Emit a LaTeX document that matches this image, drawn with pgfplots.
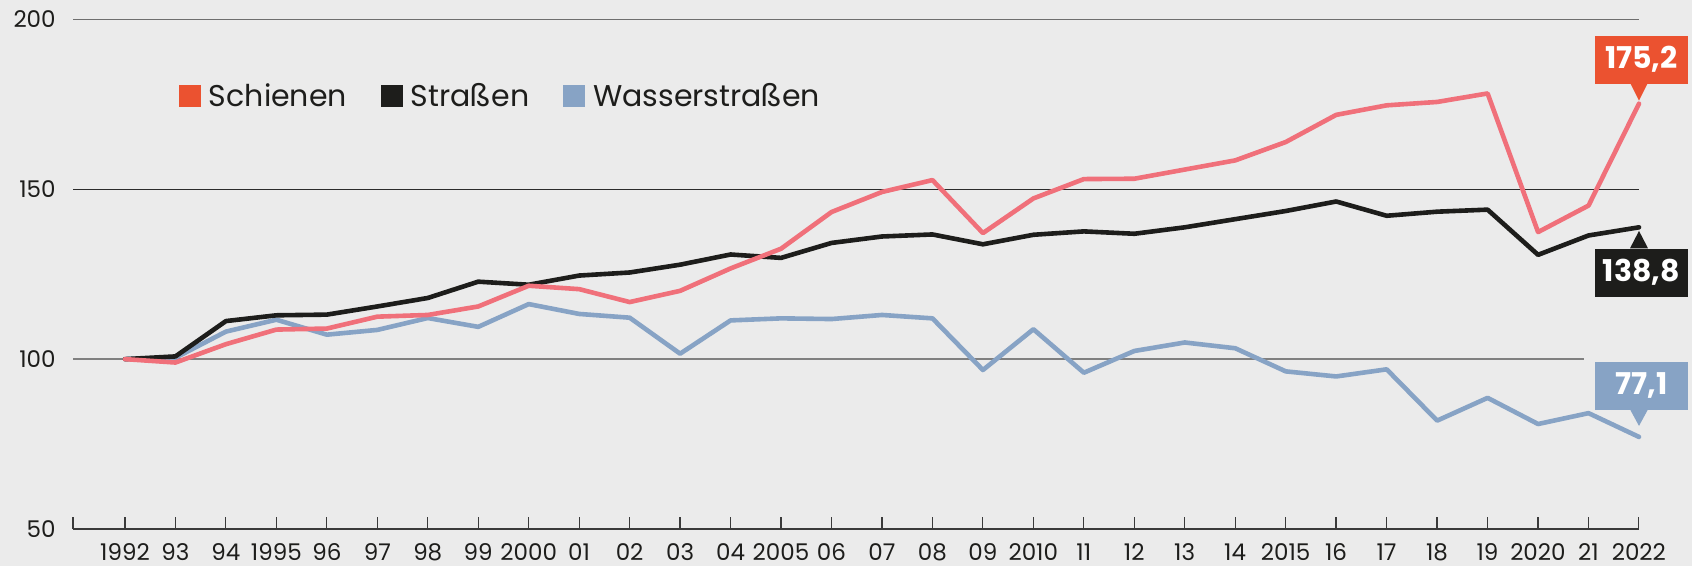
\documentclass[border=0pt]{standalone}
\usepackage{fontspec}
\setmainfont{Poppins}
\usepackage{graphicx}
\usepackage{pgfplots}
\pgfplotsset{compat=1.18}
\definecolor{bg}{HTML}{EBEBEB}
\definecolor{redline}{HTML}{F0707A}
\definecolor{redbox}{HTML}{EB5230}
\definecolor{blk}{HTML}{1D1D1B}
\definecolor{blu}{HTML}{87A3C5}
\definecolor{grid200}{HTML}{6E6E6E}
\definecolor{grid150}{HTML}{2B2B2B}
\definecolor{grid100}{HTML}{808080}
\definecolor{axisgray}{HTML}{3A3A3A}

\pgfplotstableread{
year schienen strassen wasser
1992 100.0 100.0 100.0
1993 99.0 100.8 100.4
1994 104.4 111.2 108.1
1995 108.7 112.9 111.6
1996 109.0 113.1 107.2
1997 112.5 115.5 108.6
1998 113.0 118.0 112.1
1999 115.5 122.8 109.5
2000 121.6 121.9 116.2
2001 120.6 124.6 113.3
2002 116.8 125.5 112.2
2003 120.1 127.8 101.6
2004 126.7 130.8 111.4
2005 132.5 129.8 112.0
2006 143.3 134.2 111.8
2007 149.2 136.1 113.0
2008 152.7 136.7 112.0
2009 137.1 133.8 96.8
2010 147.3 136.6 108.8
2011 153.0 137.6 96.0
2012 153.1 136.9 102.4
2013 155.8 138.8 104.9
2014 158.5 141.2 103.2
2015 163.9 143.6 96.4
2016 171.9 146.4 94.9
2017 174.7 142.2 97.0
2018 175.7 143.4 81.9
2019 178.2 144.0 88.6
2020 137.4 130.7 80.9
2021 145.2 136.4 84.1
2022 175.2 138.8 77.1
}\datatable

\begin{document}
\begin{tikzpicture}
\fill[bg] (0,0) rectangle (846bp,283bp);
\begin{axis}[
  at={(36.5bp,18.5bp)}, anchor=south west,
  scale only axis, width=783bp, height=254.8bp,
  xmin=1990.97, xmax=2022, ymin=50, ymax=200,
  clip=false,
  axis x line=bottom, axis y line=left,
  x axis line style={-, draw=axisgray, line width=0.75bp},
  y axis line style={draw=none},
  xtick={1992,...,2022},
  xticklabels={1992,93,94,1995,96,97,98,99,2000,01,02,03,04,2005,06,07,08,09,2010,11,12,13,14,2015,16,17,18,19,2020,21,2022},
  extra x ticks={1990.97}, extra x tick labels={},
  xtick align=inside,
  major tick length=6bp,
  xtick style={draw=axisgray, line width=0.6bp},
  extra x tick style={xtick style={draw=axisgray, line width=0.6bp}},
  ytick={50,100,150,200},
  ytick style={draw=none},
  /pgf/number format/assume math mode=true,
  ticklabel style={font=\fontsize{11.5bp}{13bp}\selectfont, text=blk},
  yticklabel style={anchor=east, inner sep=0pt, xshift=-5.5bp},
  xticklabel style={anchor=north, inner sep=0pt, yshift=-7bp},
  legend style={at={(axis cs:1993.07,177.4)}, anchor=west, draw=none, fill=none,
    inner sep=0pt, outer sep=0pt, nodes={inner sep=0pt, text=blk},
    font=\fontsize{15bp}{18bp}\selectfont,
    /tikz/every odd column/.append style={column sep=4bp},
    /tikz/every even column/.append style={column sep=17bp}},
  legend columns=-1,
  legend cell align=left,
  legend image code/.code={\fill[#1] (0bp,-5.5bp) rectangle (11bp,5.5bp);},
]
\draw[grid200, line width=0.75bp] (axis cs:1990.97,200) -- (axis cs:2022,200);
\draw[grid150, line width=0.5bp] (axis cs:1990.97,150) -- (axis cs:2022,150);
\draw[grid100, line width=0.75bp] (axis cs:1990.97,100) -- (axis cs:2020.9,100);

\addplot[blu, line width=2.3bp, line join=round, line cap=round, forget plot] table[x=year, y=wasser] {\datatable};
\addplot[blk, line width=2.3bp, line join=round, line cap=round, forget plot] table[x=year, y=strassen] {\datatable};
\addplot[redline, line width=2.3bp, line join=round, line cap=round, forget plot] table[x=year, y=schienen] {\datatable};

\addlegendimage{fill=redbox, draw=none}
\addlegendentry{Schienen}
\addlegendimage{fill=blk, draw=none}
\addlegendentry{Straßen}
\addlegendimage{fill=blu, draw=none}
\addlegendentry{Wasserstraßen}

% end labels
\fill[redbox] ([xshift=-4.5bp,yshift=10.5bp]axis cs:2022,175.2) -- ([xshift=4.5bp,yshift=10.5bp]axis cs:2022,175.2) -- ([yshift=1.5bp]axis cs:2022,175.2) -- cycle;
\node[fill=redbox, text=white, font=\bfseries\fontsize{15bp}{18bp}\selectfont, minimum width=46.5bp, minimum height=24bp, inner sep=0pt] at ([xshift=1.2bp,yshift=22bp]axis cs:2022,175.2) {175,2};

\fill[blk] ([xshift=-4.5bp,yshift=-10.5bp]axis cs:2022,138.8) -- ([xshift=4.5bp,yshift=-10.5bp]axis cs:2022,138.8) -- ([yshift=-1.8bp]axis cs:2022,138.8) -- cycle;
\node[fill=blk, text=white, font=\bfseries\fontsize{15bp}{18bp}\selectfont, minimum width=46.5bp, minimum height=24bp, inner sep=0pt] at ([xshift=1.2bp,yshift=-22.6bp]axis cs:2022,138.8) {138,8};

\fill[blu] ([xshift=-4.5bp,yshift=13.8bp]axis cs:2022,77.1) -- ([xshift=4.5bp,yshift=13.8bp]axis cs:2022,77.1) -- ([yshift=5.5bp]axis cs:2022,77.1) -- cycle;
\node[fill=blu, text=white, font=\bfseries\fontsize{15bp}{18bp}\selectfont, minimum width=46.5bp, minimum height=24bp, inner sep=0pt] at ([xshift=1.2bp,yshift=25.5bp]axis cs:2022,77.1) {77,1};
\end{axis}
\end{tikzpicture}
\end{document}
